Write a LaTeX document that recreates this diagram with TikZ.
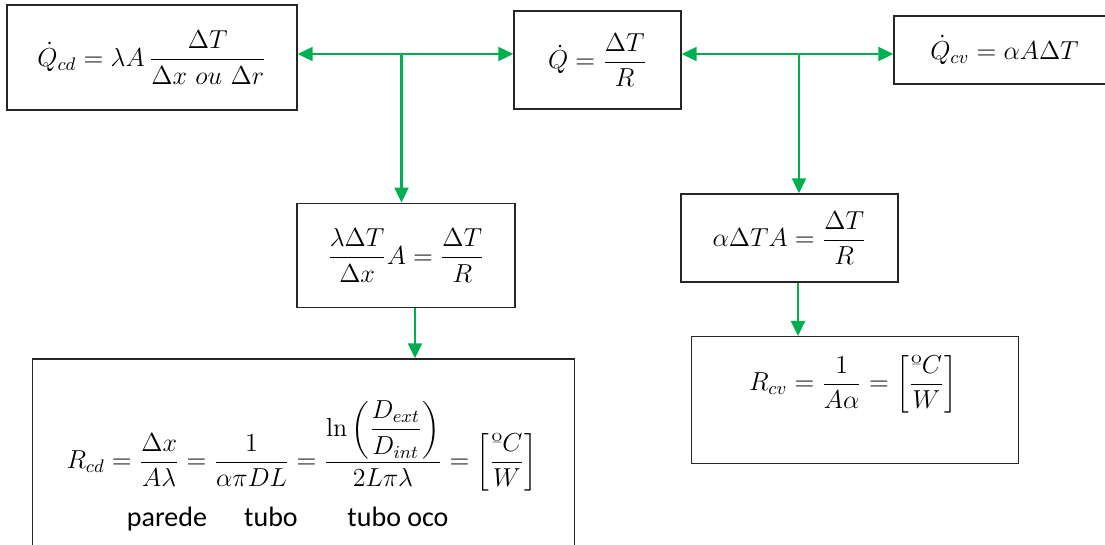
\RequirePackage{fix-cm}
\documentclass[tikz,border=0pt]{standalone}
\usepackage{amsmath}
\usepackage{fontspec}
\newfontfamily\carlito{Carlito}
\usetikzlibrary{arrows.meta}
\definecolor{grn}{RGB}{0,176,80}
\begin{document}
\begin{tikzpicture}[x=0.5pt,y=-0.5pt,
  box/.style={draw=black!85,line width=0.7pt,inner sep=0pt,font=\fontsize{13}{16}\selectfont},
  eq/.style={inner sep=0pt,font=\fontsize{13}{16}\selectfont},
  lbl/.style={inner sep=0pt,anchor=base,font=\carlito\fontsize{14}{17}\selectfont},
  link/.style={draw=grn,line width=1.1pt,-{Triangle[length=7.5pt,width=7pt]}},
  dlink/.style={draw=grn,line width=1.1pt,{Triangle[length=7.5pt,width=7pt]}-{Triangle[length=7.5pt,width=7pt]}}]
\useasboundingbox (0,0) rectangle (1105,545);
\clip (0,0) rectangle (1105,545);
\fill[white] (0,0) rectangle (1105,545);
% boxes
\node[box,minimum width=145pt,minimum height=52.5pt] (b1) at (152,57.5)
  {$\dot{Q}_{cd}=\lambda A\,\dfrac{\Delta T}{\Delta x\ ou\ \Delta r}$};
\node[box,minimum width=83.5pt,minimum height=49pt] (b2) at (597.5,60)
  {$\dot{Q}=\dfrac{\Delta T}{R}$};
\node[box,minimum width=110.5pt,minimum height=34pt] (b3) at (1004.5,50)
  {$\dot{Q}_{cv}=\alpha A\Delta T$};
\node[box,minimum width=109pt,minimum height=52.25pt] (b4) at (406,255.5)
  {$\dfrac{\lambda\Delta T}{\Delta x}A=\dfrac{\Delta T}{R}$};
\node[box,minimum width=108.5pt,minimum height=44pt] (b5) at (789.5,238)
  {$\alpha\Delta T A=\dfrac{\Delta T}{R}$};
\node[box,minimum width=271pt,minimum height=105.5pt] (b6) at (303.5,464.5) {};
\node[box,minimum width=163.3pt,minimum height=63.3pt] (b7) at (855,400) {};
% texts in lower boxes
\node[eq] (f6) at (302,446)
  {$R_{cd}=\dfrac{\Delta x}{A\lambda}=\dfrac{1}{\alpha\pi DL}=\dfrac{\ln\left(\dfrac{D_{ext}}{D_{int}}\right)}{2L\pi\lambda}=\left[\dfrac{\text{º}C}{W}\right]$};
\node[lbl] (l1) at (167,527) {parede};
\node[lbl] (l2) at (271,527) {tubo};
\node[lbl] (l3) at (398,527) {tubo oco};
\node[eq] (f7) at (853,384)
  {$R_{cv}=\dfrac{1}{A\alpha}=\left[\dfrac{\text{º}C}{W}\right]$};
% connectors
\coordinate (j1) at (401.5,54);
\coordinate (j2) at (799,54);
\coordinate (j3) at (415,0);
\coordinate (j4) at (798,0);
\draw[dlink] (b1.east |- j1) -- (b2.west |- j1);
\draw[link] (j1) -- (j1 |- b4.north);
\draw[dlink] (b2.east |- j2) -- (b3.west |- j2);
\draw[link] (j2) -- (j2 |- b5.north);
\draw[link] (j3 |- b4.south) -- (j3 |- b6.north);
\draw[link] (j4 |- b5.south) -- (j4 |- b7.north);
\end{tikzpicture}
\end{document}
